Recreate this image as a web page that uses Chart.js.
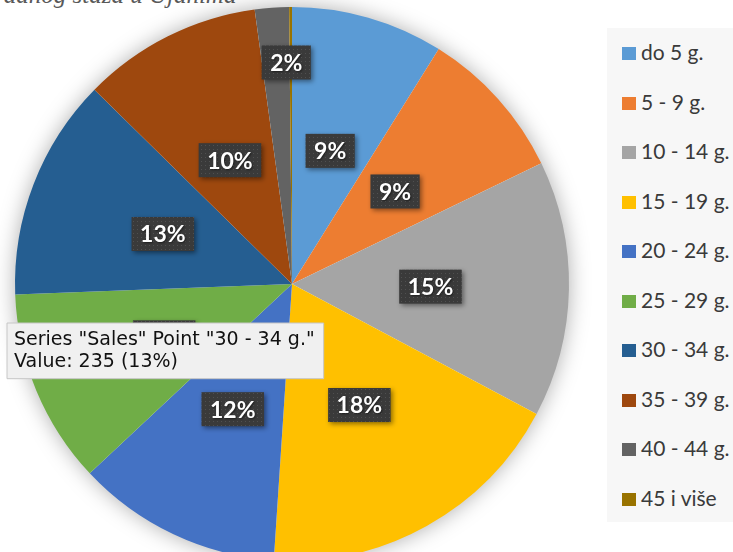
<!DOCTYPE html>
<html lang="hr">
<head>
  <meta charset="UTF-8">
  <title>Radni staž</title>
  <script src="https://cdn.jsdelivr.net/npm/chart.js"></script>
  <style>
    body { margin: 0; width: 733px; height: 552px; overflow: hidden; background: #fff; position: relative; font-family: Lato, sans-serif; }
    .title { position: absolute; left: -6px; top: -19px; font: italic 25px "Liberation Serif", serif; color: #595959; white-space: nowrap; }
    .chart-box { position: absolute; left: 0; top: 0; width: 600px; height: 570px; }
    .legend { position: absolute; left: 607px; top: 28px; width: 126px; height: 494px; background: #f7f7f7; }
    .legend div { position: absolute; left: 15px; height: 24px; line-height: 24px; font-size: 21px; color: #3a3a3a; white-space: nowrap; }
    .legend span { display: inline-block; width: 14px; height: 13px; margin-right: 5px; vertical-align: 0px; }
  </style>
</head>
<body>
  <div class="title">radnog staža u Ujanima</div>
  <div class="chart-box"><canvas id="pie"></canvas></div>
  <div class="legend" id="legend"></div>

  <script>
    const labels = ['do 5 g.', '5 - 9 g.', '10 - 14 g.', '15 - 19 g.', '20 - 24 g.', '25 - 29 g.', '30 - 34 g.', '35 - 39 g.', '40 - 44 g.', '45 i više'];
    const values = [161, 162, 271, 331, 217, 206, 235, 190, 36, 3];
    const colors = ['#5b9bd5', '#ed7d31', '#a5a5a5', '#ffc000', '#4472c4', '#70ad47', '#255e91', '#9e480e', '#636363', '#997300'];
    const seriesName = 'Sales';
    const tipIndex = 6;

    const total = values.reduce((a, b) => a + b, 0);
    const pct = v => Math.round(v / total * 100);

    // legend
    const legend = document.getElementById('legend');
    labels.forEach((l, i) => {
      const d = document.createElement('div');
      d.style.top = (12 + i * 49.5) + 'px';
      d.innerHTML = '<span style="background:' + colors[i] + '"></span>' + l;
      legend.appendChild(d);
    });

    // dotted fill for the label boxes
    const pat = document.createElement('canvas');
    pat.width = 4; pat.height = 4;
    const pc = pat.getContext('2d');
    pc.fillStyle = '#3a3a3a'; pc.fillRect(0, 0, 4, 4);
    pc.fillStyle = '#505050'; pc.fillRect(1, 1, 1, 1);

    const pieShadow = {
      id: 'pieShadow',
      beforeDatasetsDraw(chart) {
        const arc = chart.getDatasetMeta(0).data[0];
        const c = chart.ctx;
        c.save();
        c.shadowColor = 'rgba(0,0,0,0.35)';
        c.shadowBlur = 22;
        c.fillStyle = '#fff';
        c.beginPath();
        c.arc(arc.x, arc.y, arc.outerRadius - 1, 0, Math.PI * 2);
        c.fill();
        c.restore();
      }
    };

    const sliceLabels = {
      id: 'sliceLabels',
      afterDatasetsDraw(chart) {
        const c = chart.ctx;
        const fill = c.createPattern(pat, 'repeat');
        chart.getDatasetMeta(0).data.forEach((arc, i) => {
          const p = pct(values[i]);
          if (p < 1) return;
          let ang = (arc.startAngle + arc.endAngle) / 2;
          let r = arc.outerRadius * 0.5;
          if (p < 5) { // small slice: push label out and toward the slice end
            ang += (arc.endAngle - ang) * 0.75;
            r = arc.outerRadius * 0.8;
          }
          const x = arc.x + Math.cos(ang) * r;
          const y = arc.y + Math.sin(ang) * r;
          const txt = p + '%';
          c.save();
          c.font = 'bold 23px Lato';
          const w = c.measureText(txt).width + 17;
          const h = 34;
          c.shadowColor = 'rgba(0,0,0,0.45)';
          c.shadowBlur = 5;
          c.shadowOffsetX = 2;
          c.shadowOffsetY = 2;
          c.fillStyle = fill;
          c.fillRect(x - w / 2, y - h / 2, w, h);
          c.shadowColor = 'rgba(0,0,0,0.5)';
          c.shadowBlur = 2;
          c.shadowOffsetX = 1;
          c.shadowOffsetY = 1;
          c.fillStyle = '#fff';
          c.textAlign = 'center';
          c.textBaseline = 'middle';
          c.fillText(txt, x, y + 1);
          c.restore();
        });
      }
    };

    Chart.Tooltip.positioners.fixedSpot = function () {
      return { x: 7, y: 323 };
    };

    const chart = new Chart(document.getElementById('pie'), {
      type: 'pie',
      data: {
        labels: labels,
        datasets: [{
          label: seriesName,
          data: values,
          backgroundColor: colors,
          hoverBackgroundColor: colors,
          borderWidth: 0,
          hoverOffset: 0
        }]
      },
      options: {
        responsive: true,
        maintainAspectRatio: false,
        animation: false,
        events: [],
        layout: { padding: { left: 15, top: 7, right: 31, bottom: 9 } },
        plugins: {
          legend: { display: false },
          tooltip: {
            position: 'fixedSpot',
            xAlign: 'left',
            yAlign: 'top',
            caretSize: 0,
            caretPadding: 0,
            cornerRadius: 0,
            displayColors: false,
            backgroundColor: '#f0f0f0',
            borderColor: '#c6c6c6',
            borderWidth: 1,
            titleColor: '#111',
            bodyColor: '#111',
            titleFont: { family: 'DejaVu Sans', size: 19, weight: 'normal', lineHeight: 1.15 },
            bodyFont: { family: 'DejaVu Sans', size: 19, lineHeight: 1.15 },
            titleMarginBottom: 0,
            padding: { top: 6, bottom: 6, left: 7, right: 9 },
            callbacks: {
              title: items => 'Series "' + seriesName + '" Point "' + labels[items[0].dataIndex] + '"',
              label: item => 'Value: ' + item.raw + ' (' + pct(item.raw) + '%)'
            }
          }
        }
      },
      plugins: [pieShadow, sliceLabels]
    });

    chart.tooltip.setActiveElements([{ datasetIndex: 0, index: tipIndex }], { x: 7, y: 323 });
    chart.update();
  </script>
</body>
</html>
